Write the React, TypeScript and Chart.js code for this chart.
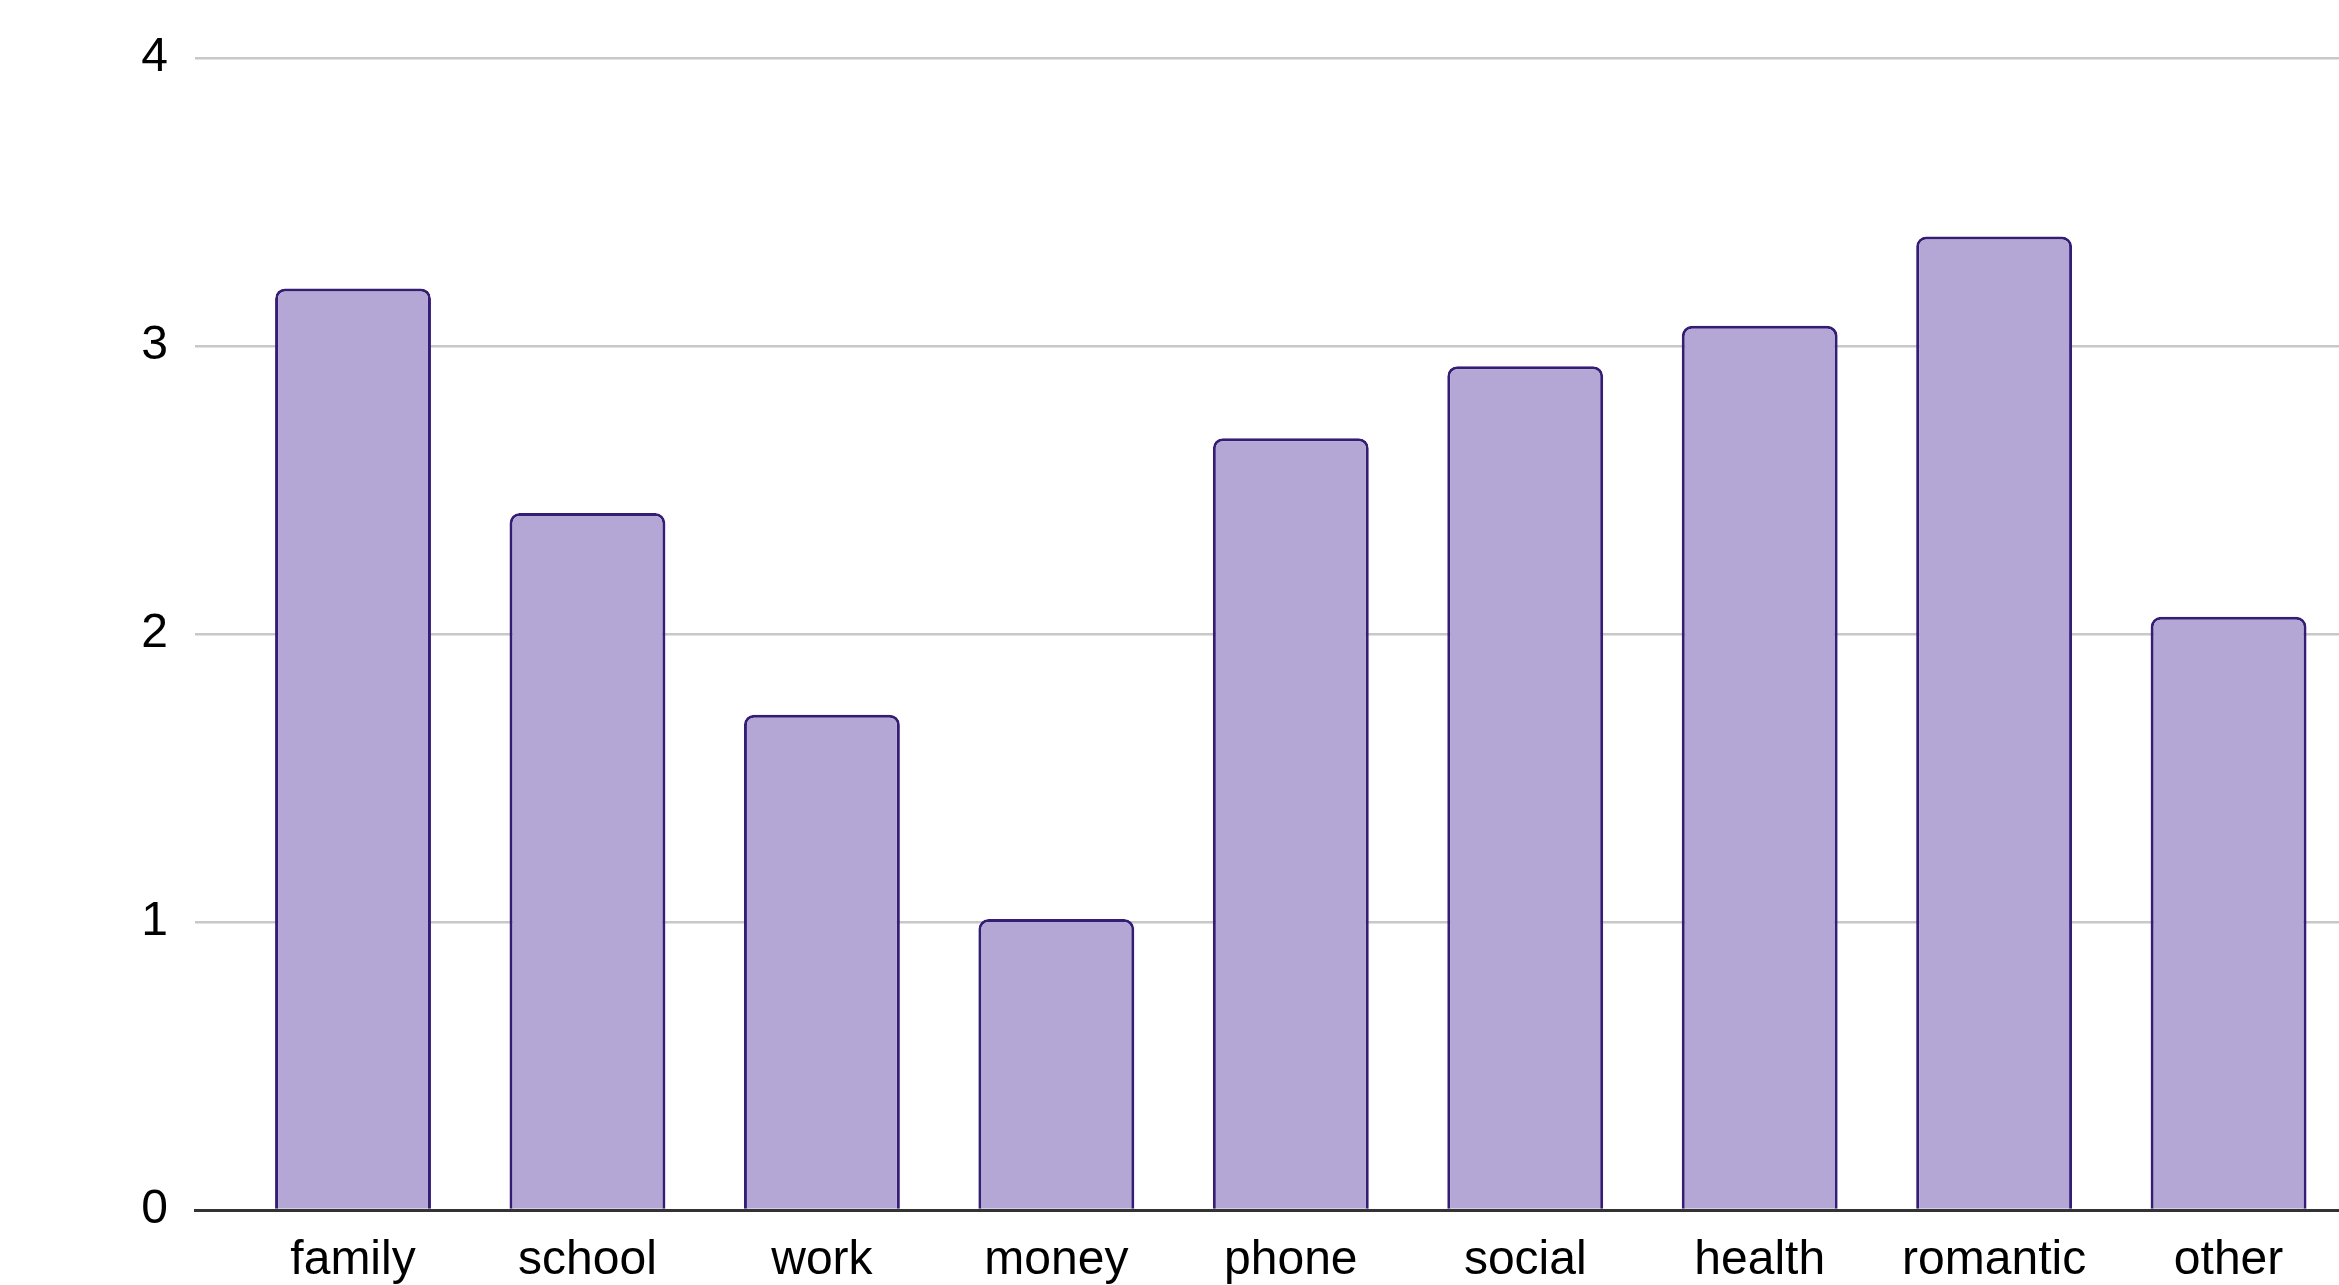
import { useEffect, useRef } from 'react';
import { Chart, registerables } from 'chart.js';

Chart.register(...registerables);

const categories = ['family', 'school', 'work', 'money', 'phone', 'social', 'health', 'romantic', 'other'];
const values = [3.2, 2.42, 1.72, 1.01, 2.68, 2.93, 3.07, 3.38, 2.06];
const yTicks = [0, 1, 2, 3, 4];

const W = 2339;
const H = 1285;
const FONT = '"Liberation Sans", Arial, Helvetica, sans-serif';

export default function App() {
  const ref = useRef<HTMLCanvasElement>(null);

  useEffect(() => {
    if (!ref.current) return;
    const chart = new Chart(ref.current, {
      type: 'bar',
      data: {
        datasets: [
          {
            data: categories.map((_, i) => ({ x: i, y: values[i] })),
            backgroundColor: '#b4a7d6',
            borderColor: '#351c75',
            borderWidth: 3,
            borderRadius: { topLeft: 10, topRight: 10, bottomLeft: 0, bottomRight: 0 },
            borderSkipped: 'start',
            barPercentage: 0.665,
            categoryPercentage: 1,
          },
        ],
      },
      options: {
        animation: false,
        responsive: false,
        maintainAspectRatio: false,
        layout: { padding: { top: 58, left: 0, right: 0, bottom: 0 } },
        plugins: { legend: { display: false }, tooltip: { enabled: false } },
        scales: {
          x: {
            type: 'linear',
            offset: false,
            min: -0.674,
            max: 8.471,
            afterBuildTicks: (axis: any) => {
              axis.ticks = categories.map((_, i) => ({ value: i }));
            },
            afterFit: (s: any) => {
              s.height = H - 1210;
            },
            ticks: {
              callback: (_v: any, i: number) => categories[i],
              font: { family: FONT, size: 48 },
              color: '#000',
              padding: 22,
              maxRotation: 0,
              autoSkip: false,
            },
            grid: { display: false, drawTicks: false, offset: false },
            border: { display: true, color: '#333333', width: 3, z: 1 },
          },
          y: {
            min: 0,
            max: 4,
            afterBuildTicks: (axis: any) => {
              axis.ticks = yTicks.map((v) => ({ value: v }));
            },
            afterFit: (s: any) => {
              s.width = 195;
            },
            ticks: {
              font: { family: FONT, size: 48 },
              color: '#000',
              padding: 27,
            },
            grid: { color: '#c8c8c8', lineWidth: 2.5, drawTicks: false },
            border: { display: false },
          },
        },
      },
    });
    return () => chart.destroy();
  }, []);

  return (
    <div style={{ position: 'fixed', left: 0, top: 0, width: W, height: H, background: '#fff' }}>
      <canvas ref={ref} width={W} height={H} style={{ width: W, height: H, display: 'block' }} />
    </div>
  );
}
